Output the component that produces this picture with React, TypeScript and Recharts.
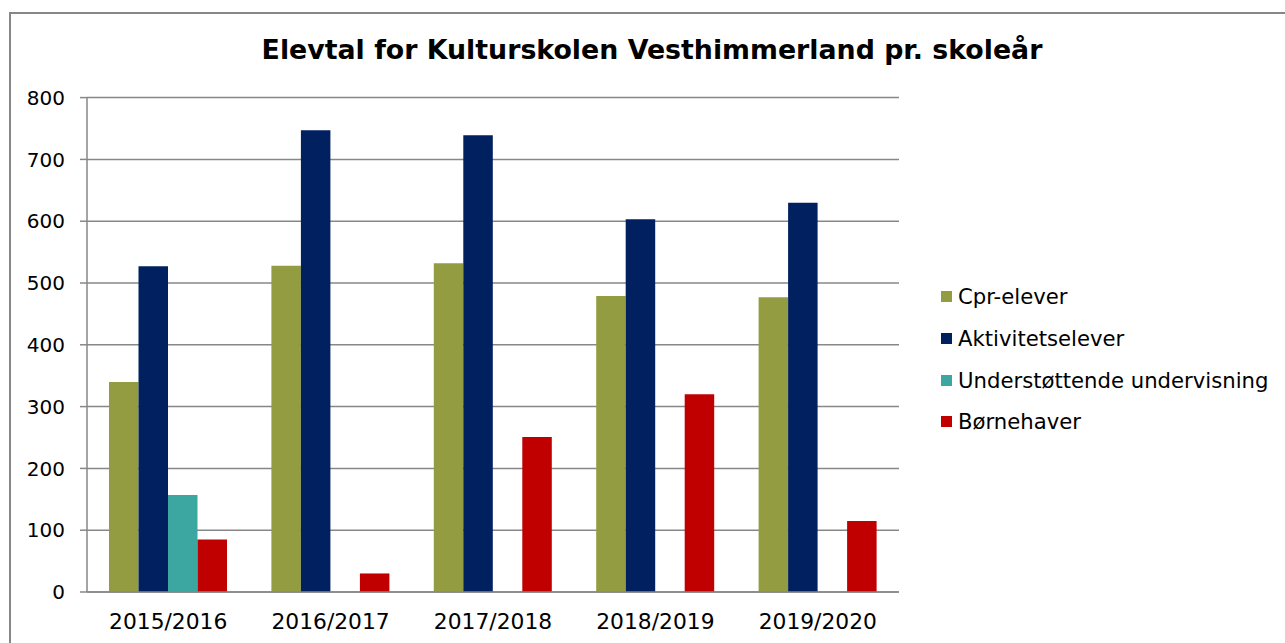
import { BarChart, Bar, XAxis, YAxis, CartesianGrid, Legend } from "recharts"

const categories = ["2015/2016", "2016/2017", "2017/2018", "2018/2019", "2019/2020"]
const cprElever = [340, 528, 532, 479, 477]
const aktivitetselever = [527, 747, 739, 603, 630]
const understottende = [157, 0, 0, 0, 0]
const bornehaver = [85, 30, 251, 320, 115]

const seriesKeys = ["cpr", "aktivitet", "understottende", "bornehaver"]
const seriesNames = ["Cpr-elever", "Aktivitetselever", "Understøttende undervisning", "Børnehaver"]
const seriesColors = ["#939c41", "#00205f", "#3ca6a1", "#c00000"]
const yTicks = [0, 100, 200, 300, 400, 500, 600, 700, 800]
const edgeTicks = [0, 1, 2, 3, 4, 5]

const title = "Elevtal for Kulturskolen Vesthimmerland pr. skoleår"

const chartData = categories.map((cat, i) => ({
  cat,
  edge: i,
  cpr: cprElever[i],
  aktivitet: aktivitetselever[i],
  understottende: understottende[i],
  bornehaver: bornehaver[i],
}))

const gray = "#878787"
const font = "'DejaVu Sans', Verdana, sans-serif"

function LegendList() {
  return (
    <div style={{ fontFamily: font, fontSize: 21.2, color: "#000" }}>
      {seriesNames.map((name, i) => (
        <div
          key={name}
          style={{ display: "flex", alignItems: "center", height: 41.7, whiteSpace: "nowrap" }}
        >
          <span
            style={{
              display: "inline-block",
              width: 11,
              height: 11,
              background: seriesColors[i],
              marginRight: 6,
            }}
          />
          <span>{name}</span>
        </div>
      ))}
    </div>
  )
}

export default function App() {
  return (
    <div
      style={{
        position: "absolute",
        left: 0,
        top: 0,
        width: 1285,
        height: 643,
        overflow: "hidden",
        background: "#fff",
        fontFamily: font,
      }}
    >
      <div
        style={{
          position: "absolute",
          left: 9,
          top: 12,
          width: 1300,
          height: 700,
          border: `2px solid ${gray}`,
          pointerEvents: "none",
        }}
      />
      <div
        style={{
          position: "absolute",
          left: 0,
          top: 35.5,
          width: 1304,
          textAlign: "center",
          fontWeight: "bold",
          fontSize: 26.8,
          lineHeight: "27px",
          color: "#000",
        }}
      >
        {title}
      </div>
      <BarChart
        width={1285}
        height={643}
        data={chartData}
        margin={{ top: 97.6, right: 386, bottom: 0, left: 0 }}
        barSize={29.5}
        barGap={0}
        style={{ position: "absolute", left: 0, top: 0, fontFamily: font }}
      >
        <CartesianGrid vertical={false} stroke={gray} strokeWidth={1.5} />
        <XAxis
          xAxisId="edges"
          dataKey="edge"
          type="number"
          domain={[0, 5]}
          ticks={edgeTicks}
          tick={false}
          axisLine={false}
          tickLine={{ stroke: gray, strokeWidth: 1.5 }}
          tickSize={7}
          height={0}
        />
        <XAxis
          dataKey="cat"
          axisLine={{ stroke: gray, strokeWidth: 1.5 }}
          tickLine={false}
          tickSize={0}
          tickMargin={22}
          height={51}
          tick={{ fill: "#000", fontSize: 21.8 }}
          interval={0}
        />
        <YAxis
          domain={[0, 800]}
          ticks={yTicks}
          width={87}
          axisLine={{ stroke: gray, strokeWidth: 1.5 }}
          tickLine={{ stroke: gray, strokeWidth: 1.5 }}
          tickSize={7}
          tickMargin={15}
          tick={{ fill: "#000", fontSize: 20 }}
          interval={0}
        />
        <Legend
          layout="vertical"
          align="center"
          verticalAlign="middle"
          wrapperStyle={{ left: 941, top: 276, width: 340 }}
          content={<LegendList />}
        />
        {seriesKeys.map((key, i) => (
          <Bar
            key={key}
            dataKey={key}
            name={seriesNames[i]}
            fill={seriesColors[i]}
            isAnimationActive={false}
          />
        ))}
      </BarChart>
    </div>
  )
}
